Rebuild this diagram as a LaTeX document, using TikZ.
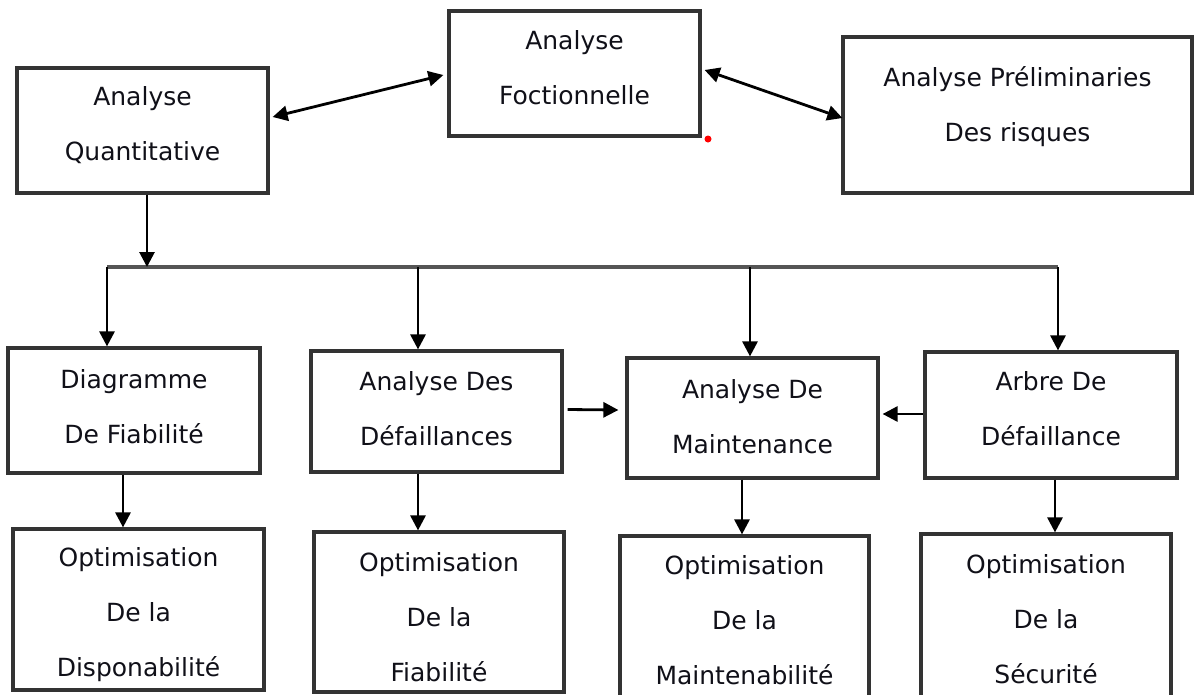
\documentclass[tikz,border=0pt]{standalone}
\usepackage{fontspec}
\setmainfont{DejaVu Sans}
\usetikzlibrary{arrows.meta,calc}
\definecolor{boxgray}{HTML}{333333}
\definecolor{txt}{HTML}{101018}
\definecolor{busgray}{HTML}{555555}
\begin{document}
\begin{tikzpicture}[x=1pt,y=-1pt,
  box/.style={draw=boxgray,line width=3.2pt,inner sep=0pt,fill=white},
  lbl/.style={align=center,text=txt,inner sep=0pt,font=\fontsize{25}{55}\selectfont},
  arr/.style={line width=2.8pt,-{Triangle[length=15pt,width=15pt]}},
  darr/.style={line width=2.8pt,{Triangle[length=15pt,width=15pt]}-{Triangle[length=15pt,width=15pt]}},
  bus/.style={line width=3.2pt,draw=busgray}]
\clip (0,0) rectangle (1194,694);
\fill[white] (0,0) rectangle (1194,694);
% boxes
\node[box,minimum width=251pt,minimum height=125pt] (AQ) at (142.5,130.5) {};
\node[box,minimum width=251pt,minimum height=125pt] (AF) at (574.5,73.5) {};
\node[box,minimum width=349pt,minimum height=156pt] (APR) at (1017.5,115) {};
\node[box,minimum width=252pt,minimum height=125pt] (DF) at (134,410.5) {};
\node[box,minimum width=251pt,minimum height=121pt] (ADD) at (436.5,411.5) {};
\node[box,minimum width=251pt,minimum height=120pt] (ADM) at (752.5,418) {};
\node[box,minimum width=252pt,minimum height=126pt] (ADF) at (1051,415) {};
\node[box,minimum width=251pt,minimum height=161pt] (O1) at (138.5,609.5) {};
\node[box,minimum width=250pt,minimum height=160pt] (O2) at (439,612) {};
\node[box,minimum width=249pt,minimum height=164pt] (O3) at (744.5,618) {};
\node[box,minimum width=250pt,minimum height=166pt] (O4) at (1046,617) {};
% labels
\node[lbl] (tAQ) at (142.5,125) {Analyse\\Quantitative};
\node[lbl] (tAF) at (574.5,68) {Analyse\\Foctionnelle};
\node[lbl] (tAPR) at (1017.5,107) {Analyse Préliminaries\\Des risques};
\node[lbl] (tDF) at (134,407) {Diagramme\\De Fiabilité};
\node[lbl] (tADD) at (436.5,409) {Analyse Des\\Défaillances};
\node[lbl] (tADM) at (752.5,416.5) {Analyse De\\Maintenance};
\node[lbl] (tADF) at (1051,409) {Arbre De\\Défaillance};
\node[lbl] (tO1) at (138.5,614.5) {Optimisation\\De la\\Disponabilité};
\node[lbl] (tO2) at (439,617.5) {Optimisation\\De la\\Fiabilité};
\node[lbl] (tO3) at (744.5,620.5) {Optimisation\\De la\\Maintenabilité};
\node[lbl] (tO4) at (1046,619.5) {Optimisation\\De la\\Sécurité};
% bus coordinates
\coordinate (b1) at (107,267);
\coordinate (b2) at (418,267);
\coordinate (b3) at (750,267);
\coordinate (b4) at (1058,267);
\draw[bus] (b1) -- (b4);
% top connectors
\draw[darr] ($(AQ.east)+(3,-13.5)$) -- ($(AF.west)+(-4,1.5)$);
\draw[darr] ($(AF.east)+(3,-3.5)$) -- ($(APR.west)+(1,3)$);
\coordinate (aqs) at ($(AQ.south)+(4.5,0)$);
\draw[arr] (aqs) -- (aqs |- b1);
% drops
\draw[arr] (b1) -- (b1 |- DF.north);
\draw[arr] (b2) -- (b2 |- ADD.north);
\draw[arr] (b3) -- (b3 |- ADM.north);
\draw[arr] (b4) -- (b4 |- ADF.north);
% side arrows
\draw[arr] ($(ADD.east)+(4,-2)$) -- ($(ADM.west)+(-7,-8)$);
\draw[arr] ($(ADF.west)+(0,-1)$) -- ($(ADM.east)+(3,-4)$);
% lower arrows
\coordinate (d1) at ($(DF.south)+(-11,0)$);
\coordinate (d2) at ($(ADD.south)+(-18.5,0)$);
\coordinate (d3) at ($(ADM.south)+(-10.5,0)$);
\coordinate (d4) at ($(ADF.south)+(4,0)$);
\draw[arr] (d1) -- (d1 |- O1.north);
\draw[arr] (d2) -- (d2 |- O2.north);
\draw[arr] (d3) -- (d3 |- O3.north);
\draw[arr] (d4) -- (d4 |- O4.north);
% red dot
\fill[red] (708,139) circle (3.5pt);
\end{tikzpicture}
\end{document}
